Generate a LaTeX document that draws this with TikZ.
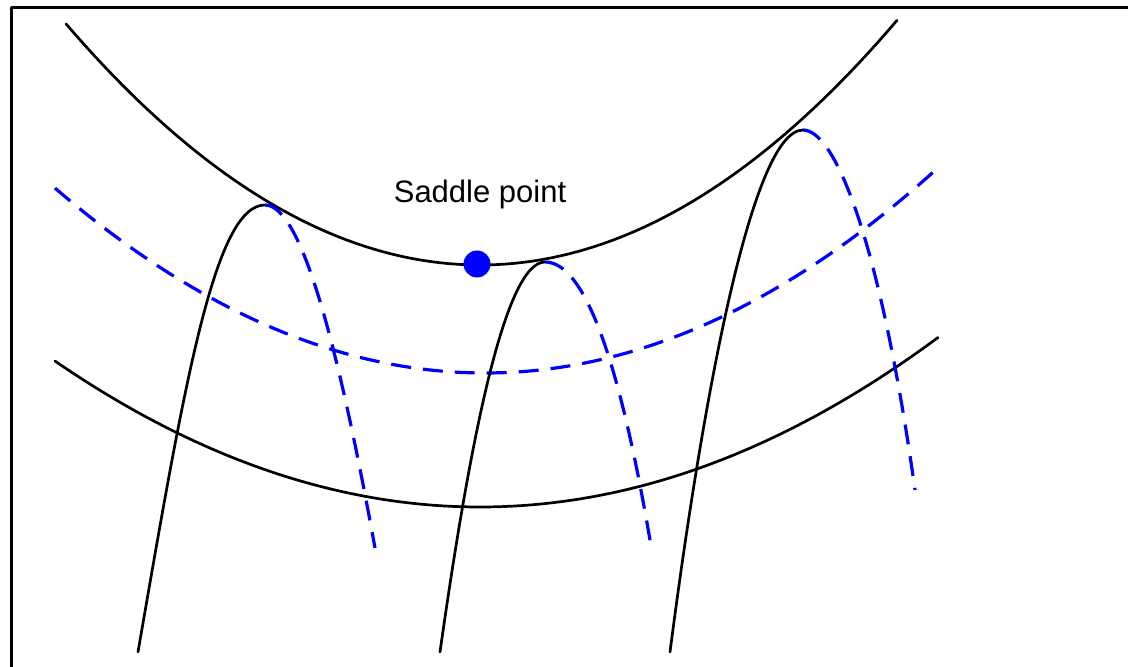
\documentclass[tikz,border=0pt]{standalone}
\usepackage{fontspec}
\setmainfont{Liberation Sans}
\usetikzlibrary{calc}

\begin{document}
\begin{tikzpicture}[x=0.5pt,y=-0.5pt,line join=round,
  curve/.style={line width=1.35pt,black,line cap=round},
  trail/.style={line width=1.6pt,blue,dash pattern=on 10pt off 6pt},
  ]
  \useasboundingbox (0,0) rectangle (1128,667);
  % frame
  \draw[line width=1.5pt] (11,667) -- (11,8) -- (1128,8);
  % hump tops
  \coordinate (T1) at (265,205);
  \coordinate (T2) at (545,262);
  \coordinate (T3) at (803,130);
  % level curves
  \draw[curve] plot[domain=66:897,samples=90] (\x,{265-14.07*((\x-480)/100)^2});
  \draw[curve] plot[domain=55:938,samples=90] (\x,{507-8.08*((\x-480)/100)^2});
  \draw[trail] plot[domain=55:938,samples=90] (\x,{373-10*((\x-485)/100)^2});
  % rising paths
  \draw[curve] (138,652) .. controls (185,380) and (215,205) .. (T1);
  \draw[curve] (440,652) .. controls (470,440) and (505,262) .. (T2);
  \draw[curve] (670,652) .. controls (700,420) and (750,130) .. (T3);
  \draw[trail] (T1) .. controls (295,205) and (330,300) .. (375,548);
  \draw[trail] (T2) .. controls (578,262) and (615,330) .. (652,552);
  \draw[trail] (T3) .. controls (835,130) and (880,240) .. (915,490);
  % saddle
  \node[circle,fill=blue,inner sep=0pt,minimum size=13.5pt] (saddle) at (477,264) {};
  \node[anchor=base,font=\fontsize{15.5}{18}\selectfont] (saddlelbl) at (480,203) {Saddle point};
\end{tikzpicture}
\end{document}
